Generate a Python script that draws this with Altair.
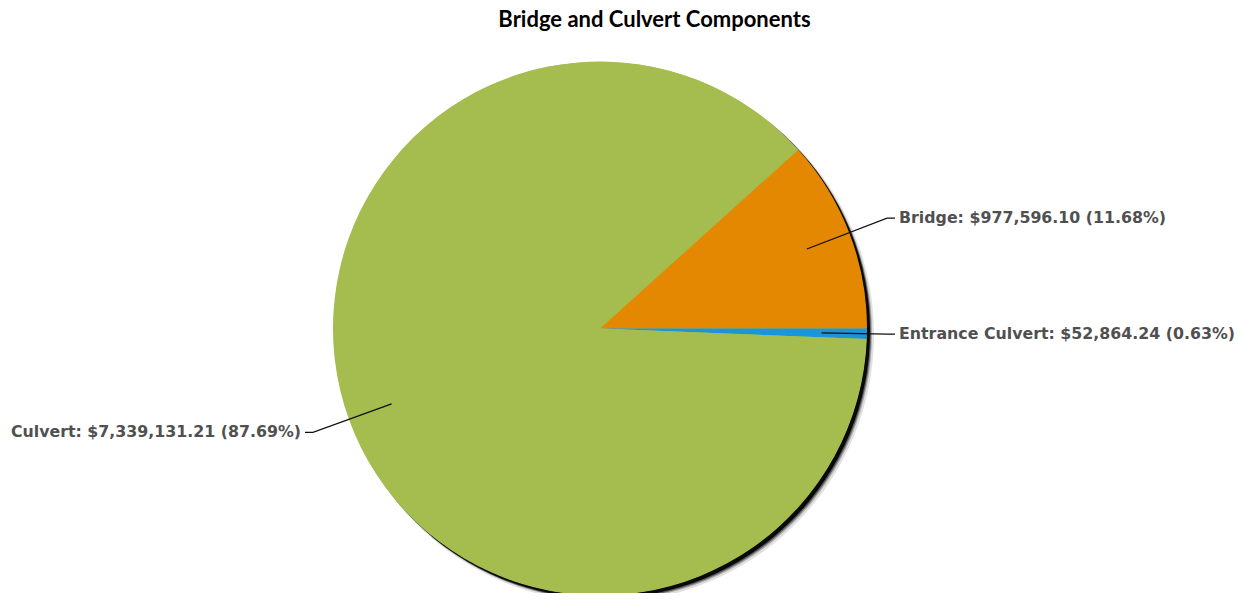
import math
import altair as alt
import pandas as pd

# ---- data ----
categories = ["Bridge", "Entrance Culvert", "Culvert"]
values = [977596.10, 52864.24, 7339131.21]
colors = ["#E48701", "#1B95D9", "#A5BC4E"]
title_text = "Bridge and Culvert Components"

# ---- layout ----
W, H = 1230, 585
CX, CY = 592, 320.5          # pie centre (chart pixels)
R = 267
TAU = 2 * math.pi

total = sum(values)
shares = [v / total for v in values]
start = math.pi / 2 - TAU * shares[0]   # Bridge ends at 3 o'clock

pie_df = pd.DataFrame({
    "cat": categories,
    "value": values,
    "ord": list(range(len(categories))),
})

# label geometry from the slice mid-angles
line_rows, text_rows = [], []
acc = start
KX = 1.075 * R
for i, (c, v, s) in enumerate(zip(categories, values, shares)):
    mid = acc + TAU * s / 2            # vega angle (0 = 12 o'clock, clockwise)
    acc += TAU * s
    ux, uy = math.sin(mid), -math.cos(mid)
    x0, y0 = CX + 0.83 * R * ux, CY + 0.83 * R * uy
    side = 1 if ux >= 0 else -1
    t = KX / abs(ux)
    x1, y1 = CX + side * KX, CY + t * uy
    x2 = x1 + side * 8
    for j, (px, py) in enumerate([(x0, y0), (x1, y1), (x2, y1)]):
        line_rows.append({"cat": c, "j": j, "x": px, "y": py})
    text_rows.append({
        "cat": c, "x": x2 + side * 4, "y": y1,
        "align": "left" if side > 0 else "right",
        "label": f"{c}: ${v:,.2f} ({s * 100:.2f}%)",
    })
line_df = pd.DataFrame(line_rows)
text_df = pd.DataFrame(text_rows)

xs = alt.Scale(domain=[0, W], range=[0, W])
ys = alt.Scale(domain=[0, H], range=[0, H])

# shadow (soft, offset to bottom-right)
shadow_specs = [(6, 6, R + 1, 0.12), (5, 5, R, 0.25), (4, 4, R, 0.45), (3, 3, R, 0.9)]
layers = []
for dx, dy, rr, op in shadow_specs:
    layers.append(
        alt.Chart(pd.DataFrame({"k": [0]})).mark_arc(
            theta=0, theta2=TAU, radius=rr, color="black", opacity=op
        ).encode(x=alt.value(CX + dx), y=alt.value(CY + dy))
    )
# base disc under the slices so seams don't show the shadow
layers.append(
    alt.Chart(pd.DataFrame({"k": [0]})).mark_arc(
        theta=0, theta2=TAU, radius=R - 0.5, color=colors[2]
    ).encode(x=alt.value(CX), y=alt.value(CY))
)

pie = alt.Chart(pie_df).mark_arc(radius=R).encode(
    theta=alt.Theta("value:Q", stack=True, scale=alt.Scale(range=[start, start + TAU])),
    order=alt.Order("ord:Q"),
    color=alt.Color("cat:N", scale=alt.Scale(domain=categories, range=colors), legend=None),
    x=alt.value(CX),
    y=alt.value(CY),
)

lines = alt.Chart(line_df).mark_line(color="#111111", strokeWidth=1.3).encode(
    x=alt.X("x:Q", scale=xs, axis=None),
    y=alt.Y("y:Q", scale=ys, axis=None),
    detail="cat:N",
    order="j:Q",
)

def label_layer(df, align):
    return alt.Chart(df).mark_text(
        align=align, baseline="middle", font="DejaVu Sans", fontWeight="bold",
        fontSize=15.8, color="#505050"
    ).encode(
        x=alt.X("x:Q", scale=xs, axis=None),
        y=alt.Y("y:Q", scale=ys, axis=None),
        text="label:N",
    )

labels_l = label_layer(text_df[text_df["align"] == "left"], "left")
labels_r = label_layer(text_df[text_df["align"] == "right"], "right")

title = alt.Chart(pd.DataFrame({"t": [title_text]})).mark_text(
    align="center", baseline="middle", font="Lato", fontWeight="bold",
    fontSize=22, color="#000000"
).encode(x=alt.value(646.5), y=alt.value(11.5), text="t:N")

chart = alt.layer(*layers, pie, lines, labels_l, labels_r, title).properties(
    width=W, height=H, autosize=alt.AutoSizeParams(type="none"), padding=0
).configure_view(stroke=None)

chart.save("out.html", embed_options={"renderer": "svg", "actions": False})
